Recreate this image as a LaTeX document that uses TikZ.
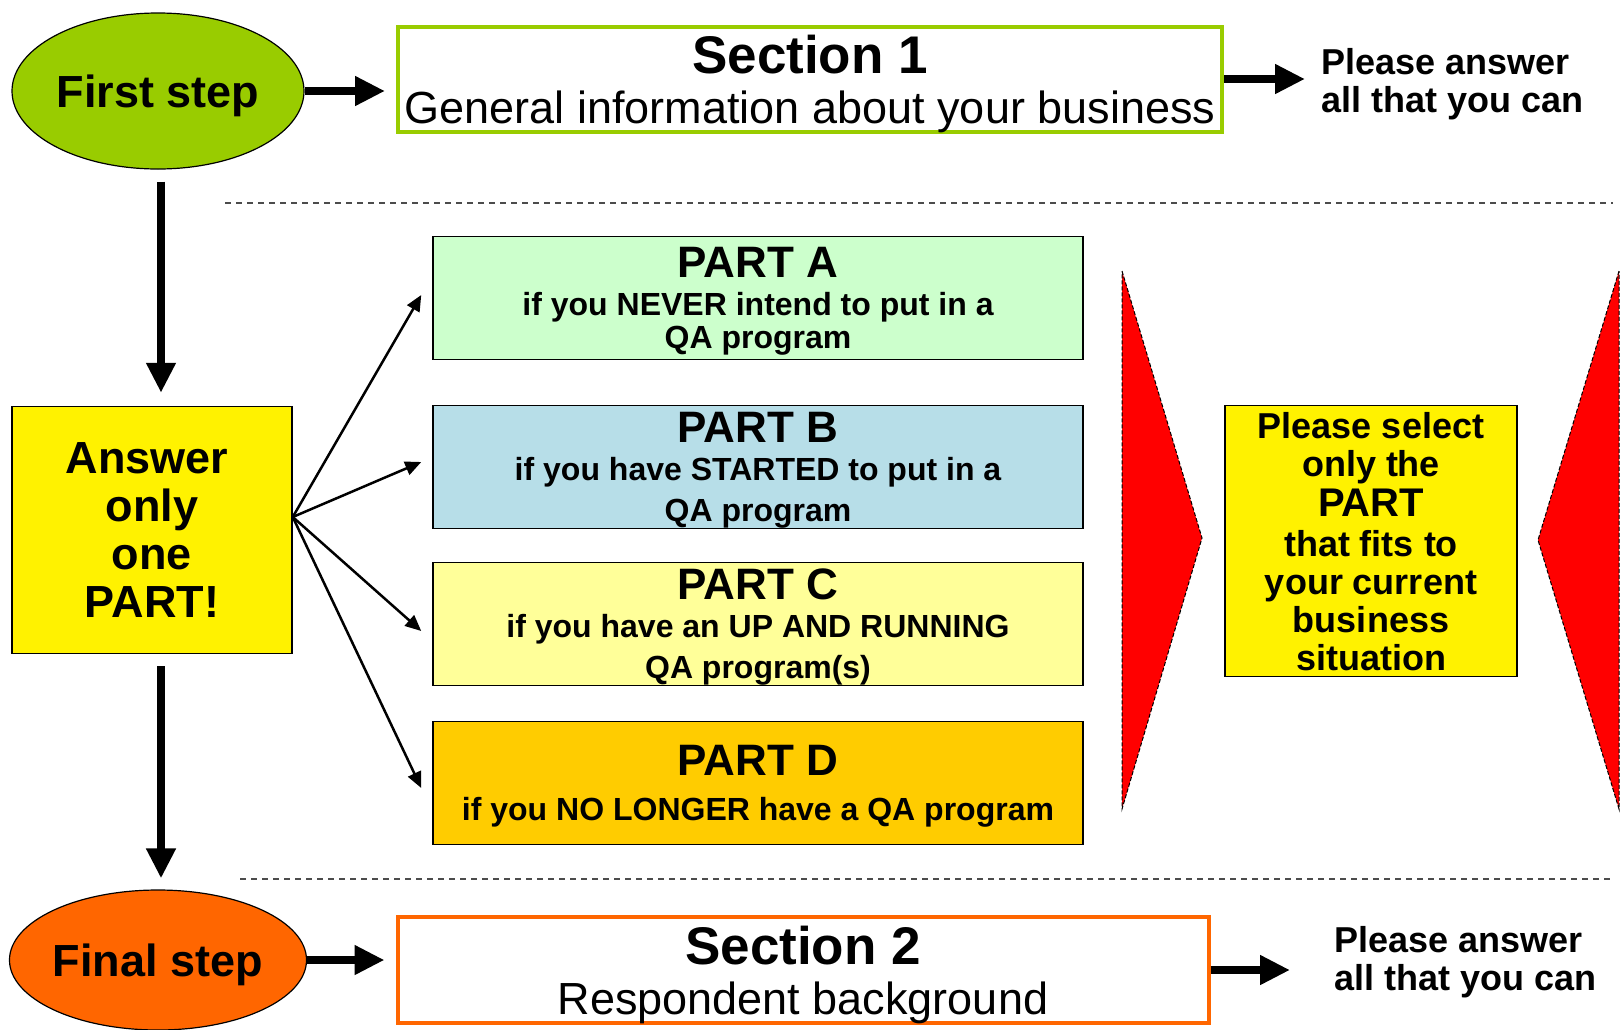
\documentclass[tikz,border=0pt]{standalone}
\usepackage{fontspec}
\setmainfont{Liberation Sans}
\usetikzlibrary{shapes.geometric,arrows.meta}

\definecolor{stepgreen}{HTML}{99CC00}
\definecolor{steporange}{HTML}{FF6600}
\definecolor{partagreen}{HTML}{CCFFCC}
\definecolor{partbblue}{HTML}{B7DEE8}
\definecolor{partcyellow}{HTML}{FFFF99}
\definecolor{partdgold}{HTML}{FFCC00}

\tikzset{
  stepnode/.style={ellipse,draw,line width=1.2pt,minimum width=292pt,minimum height=156pt,
    inner sep=0pt,text depth=0pt,font=\fontsize{45}{50}\selectfont\bfseries},
  sectionbox/.style={draw,line width=4pt,minimum width=824pt,minimum height=105pt,
    inner sep=2pt,align=center,text depth=0pt,font=\fontsize{45}{50}\selectfont},
  partbox/.style={draw,line width=1.5pt,minimum width=650pt,minimum height=123pt,
    align=center,text depth=0pt,font=\fontsize{32}{38}\selectfont\bfseries},
  notebox/.style={draw,line width=1.5pt,fill=yellow,align=center,inner sep=0pt,text depth=0pt},
  bigarrow/.style={line width=8pt,-{Triangle[length=30pt,width=28pt]}},
  fanarrow/.style={line width=2.5pt,-{Triangle[length=16pt,width=14pt]}},
  answertext/.style={align=left,inner sep=0pt,font=\fontsize{36}{38}\selectfont\bfseries},
  separator/.style={line width=1.5pt,black!70,dash pattern=on 6pt off 5pt},
  redwedge/.style={fill=red,draw=black,line width=1pt,dash pattern=on 4pt off 2pt}
}

\begin{document}
\begin{tikzpicture}[x=1pt,y=-1pt]
  \useasboundingbox (0,0) rectangle (1621,1029);

  % first step and section 1
  \node[stepnode,fill=stepgreen] (first) at (158,91) {First step};
  \node[sectionbox,draw=stepgreen] (sec1) at (810,79)
    {{\fontsize{53}{55}\selectfont\bfseries Section 1}\\General information about your business};
  \node[answertext,anchor=west] (all1) at (1321,84) {Please answer\\all that you can};

  \draw[separator] (225,203) -- (1613,203);

  % the four parts
  \node[notebox,minimum width=280pt,minimum height=247pt,font=\fontsize{45}{48}\selectfont\bfseries]
    (answer) at (152,530) {Answer\hspace*{10pt}\\only\hspace*{10pt}\\one\hspace*{10pt}\\PART!};
  \node[partbox,fill=partagreen] (parta) at (758,298)
    {{\fontsize{44}{44}\selectfont PART A}\\if you NEVER intend to put in a\\[-5pt]QA program};
  \node[partbox,fill=partbblue] (partb) at (758,467)
    {{\fontsize{44}{44}\selectfont PART B}\\if you have STARTED to put in a\\[3pt]QA program};
  \node[partbox,fill=partcyellow] (partc) at (758,624)
    {{\fontsize{44}{44}\selectfont PART C}\\if you have an UP AND RUNNING\\[3pt]QA program(s)};
  \node[partbox,fill=partdgold] (partd) at (758,783)
    {{\fontsize{44}{44}\selectfont PART D}\\[7pt]if you NO LONGER have a QA program};

  \filldraw[redwedge] (1122,271) -- (1202,538) -- (1122,809) -- cycle;
  \filldraw[redwedge] (1619,271) -- (1538,540) -- (1619,809) -- cycle;
  \node[notebox,minimum width=292pt,minimum height=271pt,font=\fontsize{36}{38}\selectfont\bfseries]
    (select) at (1371,541)
    {Please select\\only the\\[2pt]{\fontsize{40}{40}\selectfont PART}\\[2pt]that fits to\\your current\\business\\situation};

  \draw[separator] (240,879) -- (1613,879);

  % final step and section 2
  \node[stepnode,fill=steporange,minimum height=140pt] (final) at (158,960) {Final step};
  \node[sectionbox,draw=steporange,minimum width=811pt,minimum height=106pt] (sec2) at (803,970)
    {{\fontsize{53}{55}\selectfont\bfseries Section 2}\\Respondent background};
  \node[answertext,anchor=west] (all2) at (1334,962) {Please answer\\all that you can};

  % arrows
  \draw[bigarrow,shorten >=11pt] (first.east) -- (first.east -| sec1.west);
  \draw[bigarrow,shorten >=16pt] (sec1.east) -- (sec1.east -| all1.west);
  \draw[bigarrow,shorten <=12pt,shorten >=13pt] ([xshift=3pt]first.south) -- ([xshift=3pt]first.south |- answer.north);
  \draw[bigarrow,shorten <=12pt,shorten >=11pt] ([xshift=3pt]first.south |- answer.south) -- ([xshift=3pt]first.south |- final.north);
  \draw[bigarrow,shorten >=11pt] (final.east) -- (final.east -| sec2.west);
  \draw[bigarrow,shorten >=44pt] (sec2.east) -- (sec2.east -| all2.west);

  \coordinate (fan) at ([yshift=13pt]answer.east);
  \foreach \p/\dy in {parta/3,partb/5,partc/-7,partd/-5}
    \draw[fanarrow] (fan) -- ([xshift=-11pt,yshift=\dy pt]\p.west);
\end{tikzpicture}
\end{document}
